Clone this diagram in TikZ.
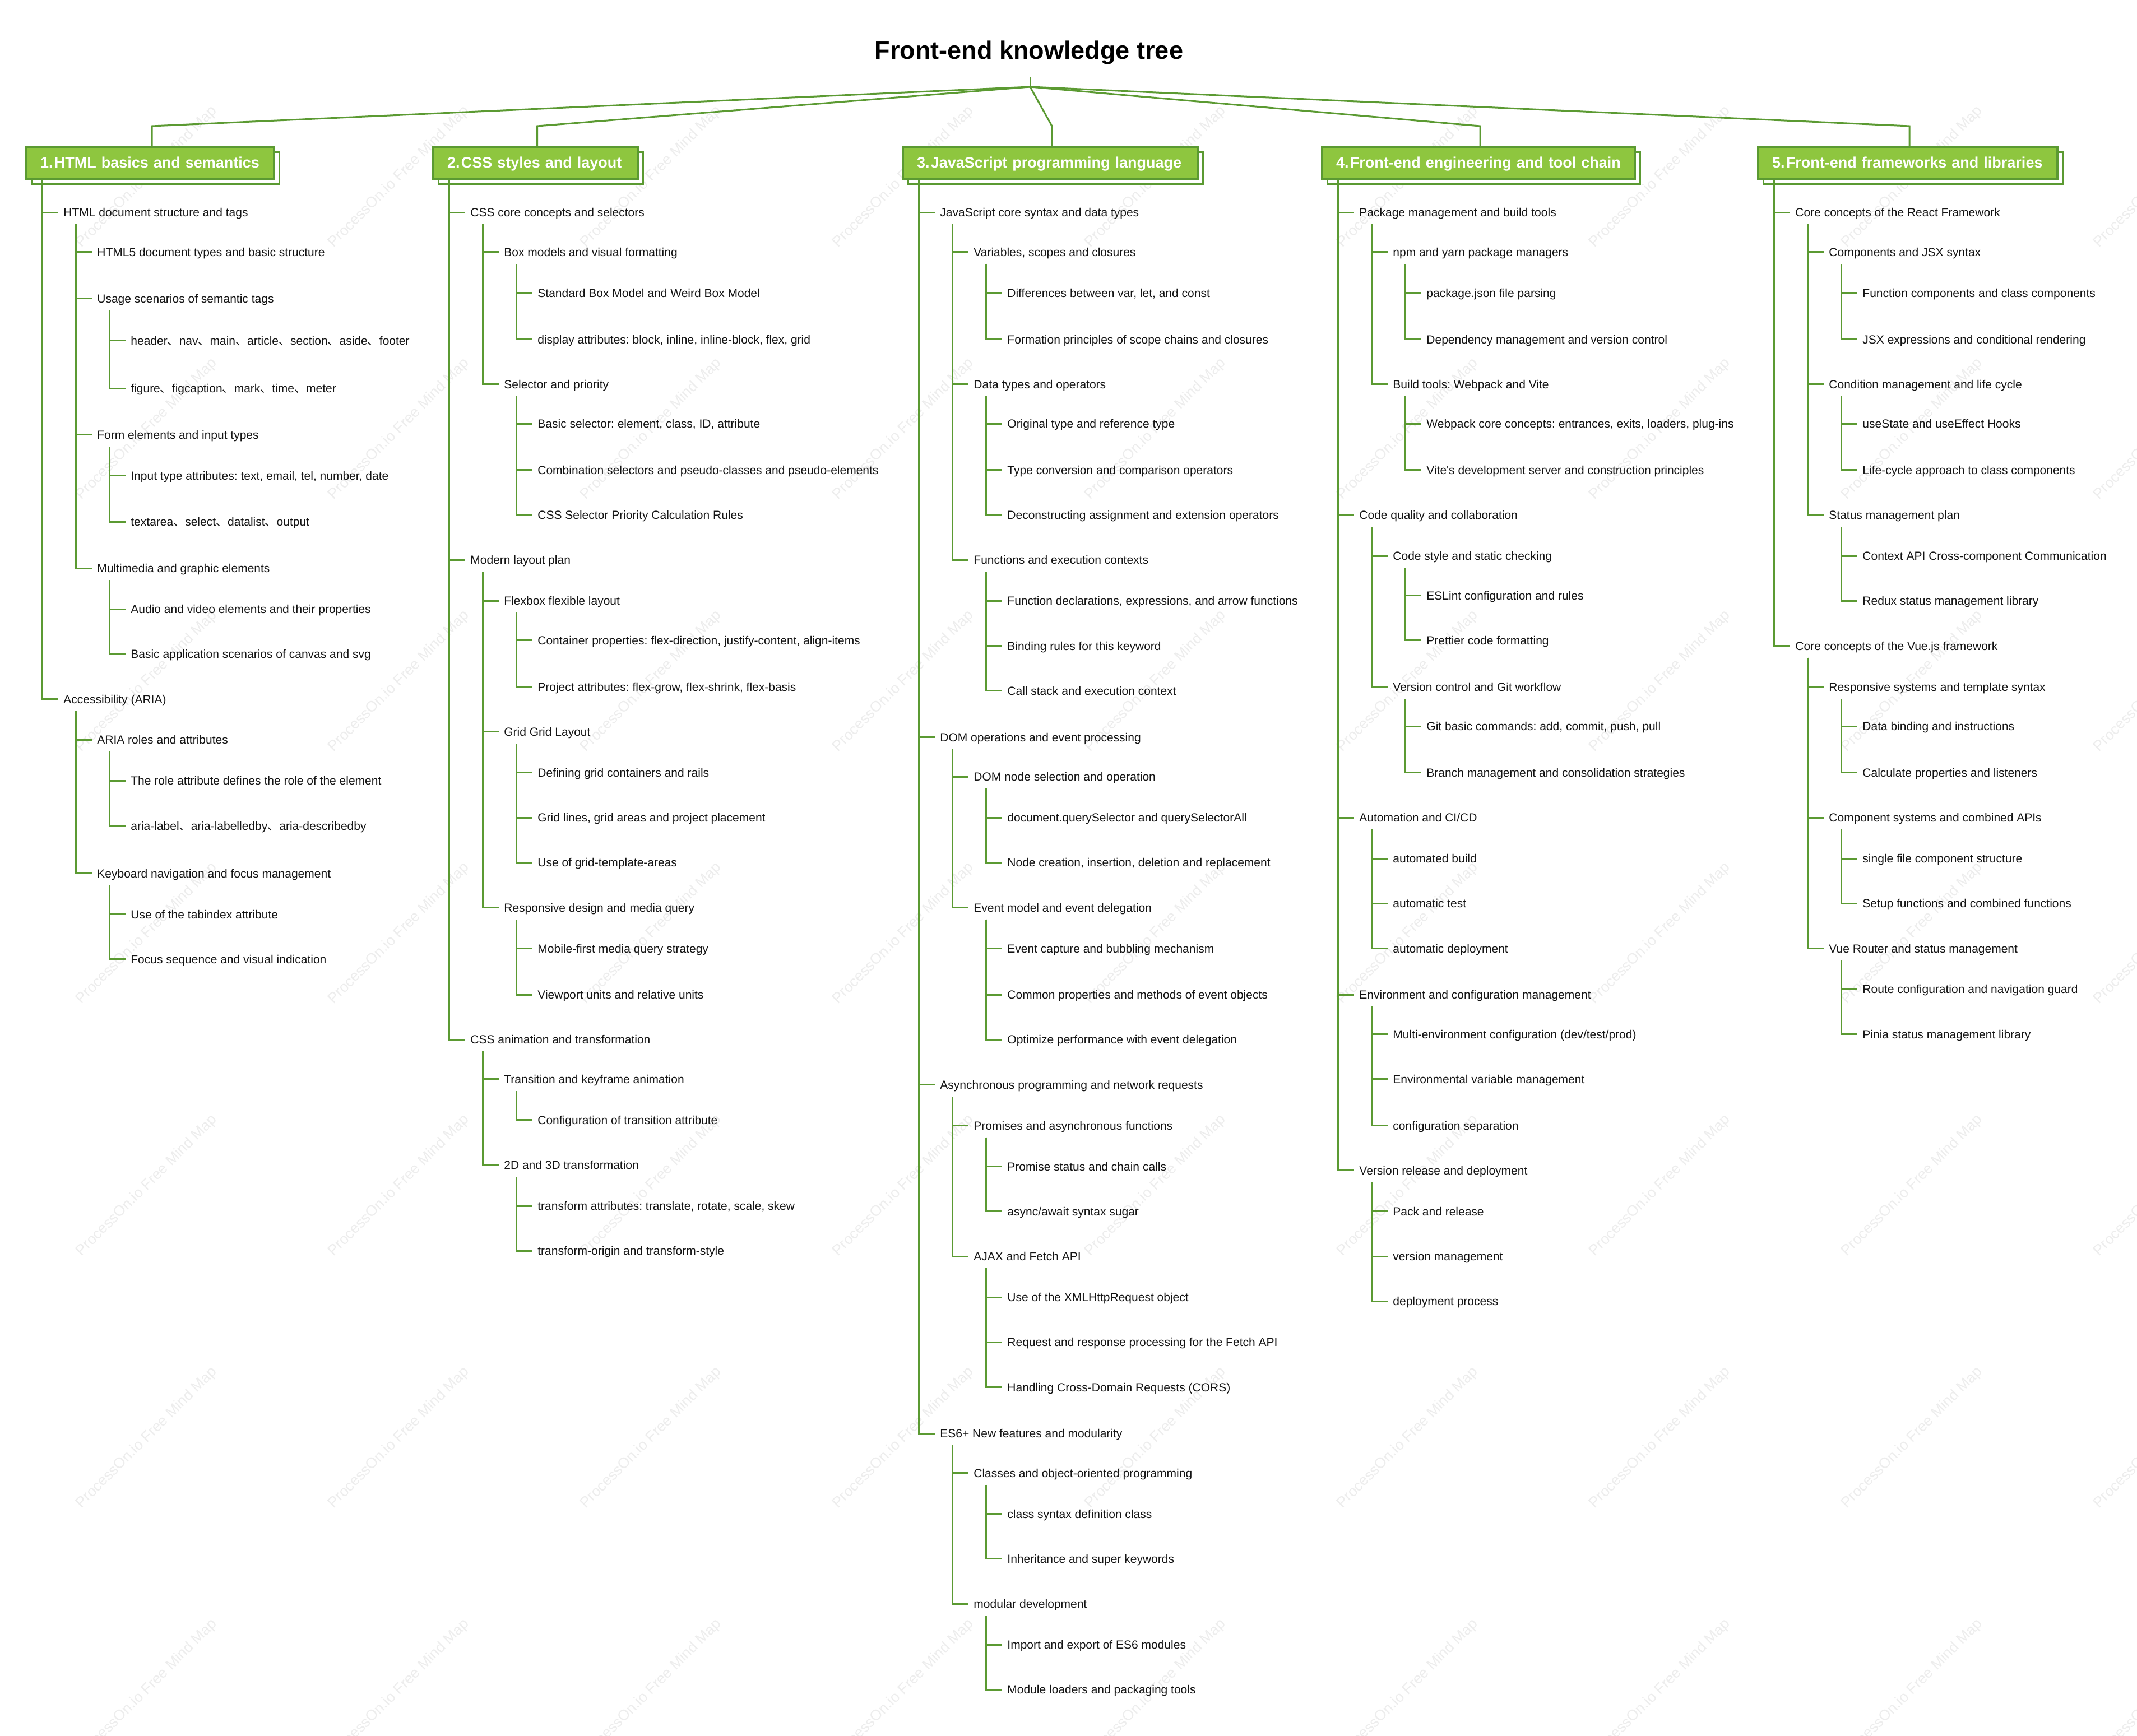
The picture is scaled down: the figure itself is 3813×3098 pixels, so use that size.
\documentclass[tikz,border=0pt]{standalone}
\usepackage{fontspec}
\usetikzlibrary{shadows}
\frenchspacing
\newfontfamily\lib{Liberation Sans}
\newfontfamily\cjkf{Noto Sans CJK SC}
\newcommand{\dn}{{\cjkf 、}}
\definecolor{gline}{HTML}{5B9A32}
\definecolor{gfill}{HTML}{8EC63F}
\definecolor{wmark}{HTML}{EDEDED}
\definecolor{rowink}{HTML}{141414}
\tikzset{
  ln/.style={gline,line width=1.5pt},
  rowtext/.style={font=\lib\fontsize{10.5}{12}\selectfont,text=rowink,anchor=west,inner xsep=4.5pt,inner ysep=0pt,text height=9.5pt,text depth=2pt},
  topbox/.style={draw=gline,fill=gfill,line width=2pt,anchor=north west,outer sep=0pt,minimum height=28.5pt,inner xsep=12.5pt,inner ysep=0pt,align=left,text height=12pt,text depth=3.5pt,
    font=\lib\bfseries\fontsize{13.5}{16}\selectfont,text=white,
    copy shadow={shadow xshift=4.5pt,shadow yshift=-4.5pt,fill=white,draw=gline,line width=1.5pt,opacity=1}},
  wm/.style={font=\lib\fontsize{13.2}{16}\selectfont,text=wmark,rotate=45,inner sep=0pt},
  titlenode/.style={font=\lib\bfseries\fontsize{22.5}{26}\selectfont,text=black,inner sep=0pt}
}
\newcommand{\R}[4]{\node[rowtext] (#1) at ({\cx+58+60*(#2-1)},{#3*2.4318}) {#4};}
\newcommand{\K}[2]{\coordinate (T) at ([shift={(31,21)}]#1.west);
  \foreach \c in {#2} {\draw[ln] (T) |- (\c.west);}}
\newcommand{\KB}[2]{\coordinate (T) at ([xshift=14pt]#1.south west);
  \foreach \c in {#2} {\draw[ln] (T) |- (\c.west);}}
\begin{document}
\begin{tikzpicture}[x=0.5pt,y=-0.5pt]
\useasboundingbox (0,0) rectangle (3813,3098);
\fill[white] (0,0) rectangle (3813,3098);
\begin{scope}
\clip (0,0) rectangle (3813,3098);
\foreach \wx in {262,712,1162,1612,2062,2512,2962,3412,3862}
  \foreach \wy in {316,766,1216,1666,2116,2566,3016}
    \node[wm] (w\wx-\wy) at (\wx,\wy) {ProcessOn.io Free Mind Map};
\end{scope}

\node[titlenode] (title) at (1836,94) {Front-end knowledge tree};
\coordinate (stem) at (1838,138);
\coordinate (root) at (1838,155);
\draw[ln] (stem) -- (root);

\node[topbox,text width=196pt] (b1) at (47,263) {\mbox{1.\kern1.2pt HTML basics and semantics}};
\node[topbox,text width=157.5pt] (b2) at (773,263) {\mbox{2.\kern1.2pt CSS styles and layout}};
\node[topbox,text width=238pt] (b3) at (1611,263) {\mbox{3.\kern1.2pt JavaScript programming language}};
\node[topbox,text width=254pt] (b4) at (2359,263) {\mbox{4.\kern1.2pt Front-end engineering and tool chain}};
\node[topbox,text width=242pt] (b5) at (3137,263) {\mbox{5.\kern1.2pt Front-end frameworks and libraries}};

\foreach \b in {b1,b2,b3,b4,b5}
  \draw[ln] (root) -- ([shift={(3,-38)}]\b.north) -- ([xshift=1.5pt]\b.north);

% column 1
\def\cx{46}
\R{a1}{1}{156}{HTML document structure and tags}
\R{a2}{2}{185}{HTML5 document types and basic structure}
\R{a3}{2}{219}{Usage scenarios of semantic tags}
\R{a4}{3}{250}{header\dn nav\dn main\dn article\dn section\dn aside\dn footer}
\R{a5}{3}{285}{figure\dn figcaption\dn mark\dn time\dn meter}
\R{a6}{2}{319}{Form elements and input types}
\R{a7}{3}{349}{Input type attributes: text, email, tel, number, date}
\R{a8}{3}{383}{textarea\dn select\dn datalist\dn output}
\R{a9}{2}{417}{Multimedia and graphic elements}
\R{a10}{3}{447}{Audio and video elements and their properties}
\R{a11}{3}{480}{Basic application scenarios of canvas and svg}
\R{a12}{1}{513}{Accessibility (ARIA)}
\R{a13}{2}{543}{ARIA roles and attributes}
\R{a14}{3}{573}{The role attribute defines the role of the element}
\R{a15}{3}{606}{aria-label\dn aria-labelledby\dn aria-describedby}
\R{a16}{2}{641}{Keyboard navigation and focus management}
\R{a17}{3}{671}{Use of the tabindex attribute}
\R{a18}{3}{704}{Focus sequence and visual indication}
\KB{b1}{a1,a12}
\K{a1}{a2,a3,a6,a9}
\K{a3}{a4,a5}
\K{a6}{a7,a8}
\K{a9}{a10,a11}
\K{a12}{a13,a16}
\K{a13}{a14,a15}
\K{a16}{a17,a18}

% column 2
\def\cx{772}
\R{c1}{1}{156}{CSS core concepts and selectors}
\R{c2}{2}{185}{Box models and visual formatting}
\R{c3}{3}{215}{Standard Box Model and Weird Box Model}
\R{c4}{3}{249}{display attributes: block, inline, inline-block, flex, grid}
\R{c5}{2}{282}{Selector and priority}
\R{c6}{3}{311}{Basic selector: element, class, ID, attribute}
\R{c7}{3}{345}{Combination selectors and pseudo-classes and pseudo-elements}
\R{c8}{3}{378}{CSS Selector Priority Calculation Rules}
\R{c9}{1}{411}{Modern layout plan}
\R{c10}{2}{441}{Flexbox flexible layout}
\R{c11}{3}{470}{Container properties: flex-direction, justify-content, align-items}
\R{c12}{3}{504}{Project attributes: flex-grow, flex-shrink, flex-basis}
\R{c13}{2}{537}{Grid Grid Layout}
\R{c14}{3}{567}{Defining grid containers and rails}
\R{c15}{3}{600}{Grid lines, grid areas and project placement}
\R{c16}{3}{633}{Use of grid-template-areas}
\R{c17}{2}{666}{Responsive design and media query}
\R{c18}{3}{696}{Mobile-first media query strategy}
\R{c19}{3}{730}{Viewport units and relative units}
\R{c20}{1}{763}{CSS animation and transformation}
\R{c21}{2}{792}{Transition and keyframe animation}
\R{c22}{3}{822}{Configuration of transition attribute}
\R{c23}{2}{855}{2D and 3D transformation}
\R{c24}{3}{885}{transform attributes: translate, rotate, scale, skew}
\R{c25}{3}{918}{transform-origin and transform-style}
\KB{b2}{c1,c9,c20}
\K{c1}{c2,c5}
\K{c2}{c3,c4}
\K{c5}{c6,c7,c8}
\K{c9}{c10,c13,c17}
\K{c10}{c11,c12}
\K{c13}{c14,c15,c16}
\K{c17}{c18,c19}
\K{c20}{c21,c23}
\K{c21}{c22}
\K{c23}{c24,c25}

% column 3
\def\cx{1610}
\R{j1}{1}{156}{JavaScript core syntax and data types}
\R{j2}{2}{185}{Variables, scopes and closures}
\R{j3}{3}{215}{Differences between var, let, and const}
\R{j4}{3}{249}{Formation principles of scope chains and closures}
\R{j5}{2}{282}{Data types and operators}
\R{j6}{3}{311}{Original type and reference type}
\R{j7}{3}{345}{Type conversion and comparison operators}
\R{j8}{3}{378}{Deconstructing assignment and extension operators}
\R{j9}{2}{411}{Functions and execution contexts}
\R{j10}{3}{441}{Function declarations, expressions, and arrow functions}
\R{j11}{3}{474}{Binding rules for this keyword}
\R{j12}{3}{507}{Call stack and execution context}
\R{j13}{1}{541}{DOM operations and event processing}
\R{j14}{2}{570}{DOM node selection and operation}
\R{j15}{3}{600}{document.querySelector and querySelectorAll}
\R{j16}{3}{633}{Node creation, insertion, deletion and replacement}
\R{j17}{2}{666}{Event model and event delegation}
\R{j18}{3}{696}{Event capture and bubbling mechanism}
\R{j19}{3}{730}{Common properties and methods of event objects}
\R{j20}{3}{763}{Optimize performance with event delegation}
\R{j21}{1}{796}{Asynchronous programming and network requests}
\R{j22}{2}{826}{Promises and asynchronous functions}
\R{j23}{3}{856}{Promise status and chain calls}
\R{j24}{3}{889}{async/await syntax sugar}
\R{j25}{2}{922}{AJAX and Fetch API}
\R{j26}{3}{952}{Use of the XMLHttpRequest object}
\R{j27}{3}{985}{Request and response processing for the Fetch API}
\R{j28}{3}{1018}{Handling Cross-Domain Requests (CORS)}
\R{j29}{1}{1052}{ES6+ New features and modularity}
\R{j30}{2}{1081}{Classes and object-oriented programming}
\R{j31}{3}{1111}{class syntax definition class}
\R{j32}{3}{1144}{Inheritance and super keywords}
\R{j33}{2}{1177}{modular development}
\R{j34}{3}{1207}{Import and export of ES6 modules}
\R{j35}{3}{1240}{Module loaders and packaging tools}
\KB{b3}{j1,j13,j21,j29}
\K{j1}{j2,j5,j9}
\K{j2}{j3,j4}
\K{j5}{j6,j7,j8}
\K{j9}{j10,j11,j12}
\K{j13}{j14,j17}
\K{j14}{j15,j16}
\K{j17}{j18,j19,j20}
\K{j21}{j22,j25}
\K{j22}{j23,j24}
\K{j25}{j26,j27,j28}
\K{j29}{j30,j33}
\K{j30}{j31,j32}
\K{j33}{j34,j35}

% column 4
\def\cx{2358}
\R{e1}{1}{156}{Package management and build tools}
\R{e2}{2}{185}{npm and yarn package managers}
\R{e3}{3}{215}{package.json file parsing}
\R{e4}{3}{249}{Dependency management and version control}
\R{e5}{2}{282}{Build tools: Webpack and Vite}
\R{e6}{3}{311}{Webpack core concepts: entrances, exits, loaders, plug-ins}
\R{e7}{3}{345}{Vite's development server and construction principles}
\R{e8}{1}{378}{Code quality and collaboration}
\R{e9}{2}{408}{Code style and static checking}
\R{e10}{3}{437}{ESLint configuration and rules}
\R{e11}{3}{470}{Prettier code formatting}
\R{e12}{2}{504}{Version control and Git workflow}
\R{e13}{3}{533}{Git basic commands: add, commit, push, pull}
\R{e14}{3}{567}{Branch management and consolidation strategies}
\R{e15}{1}{600}{Automation and CI/CD}
\R{e16}{2}{630}{automated build}
\R{e17}{2}{663}{automatic test}
\R{e18}{2}{696}{automatic deployment}
\R{e19}{1}{730}{Environment and configuration management}
\R{e20}{2}{759}{Multi-environment configuration (dev/test/prod)}
\R{e21}{2}{792}{Environmental variable management}
\R{e22}{2}{826}{configuration separation}
\R{e23}{1}{859}{Version release and deployment}
\R{e24}{2}{889}{Pack and release}
\R{e25}{2}{922}{version management}
\R{e26}{2}{955}{deployment process}
\KB{b4}{e1,e8,e15,e19,e23}
\K{e1}{e2,e5}
\K{e2}{e3,e4}
\K{e5}{e6,e7}
\K{e8}{e9,e12}
\K{e9}{e10,e11}
\K{e12}{e13,e14}
\K{e15}{e16,e17,e18}
\K{e19}{e20,e21,e22}
\K{e23}{e24,e25,e26}

% column 5
\def\cx{3136}
\R{f1}{1}{156}{Core concepts of the React Framework}
\R{f2}{2}{185}{Components and JSX syntax}
\R{f3}{3}{215}{Function components and class components}
\R{f4}{3}{249}{JSX expressions and conditional rendering}
\R{f5}{2}{282}{Condition management and life cycle}
\R{f6}{3}{311}{useState and useEffect Hooks}
\R{f7}{3}{345}{Life-cycle approach to class components}
\R{f8}{2}{378}{Status management plan}
\R{f9}{3}{408}{Context API Cross-component Communication}
\R{f10}{3}{441}{Redux status management library}
\R{f11}{1}{474}{Core concepts of the Vue.js framework}
\R{f12}{2}{504}{Responsive systems and template syntax}
\R{f13}{3}{533}{Data binding and instructions}
\R{f14}{3}{567}{Calculate properties and listeners}
\R{f15}{2}{600}{Component systems and combined APIs}
\R{f16}{3}{630}{single file component structure}
\R{f17}{3}{663}{Setup functions and combined functions}
\R{f18}{2}{696}{Vue Router and status management}
\R{f19}{3}{726}{Route configuration and navigation guard}
\R{f20}{3}{759}{Pinia status management library}
\KB{b5}{f1,f11}
\K{f1}{f2,f5,f8}
\K{f2}{f3,f4}
\K{f5}{f6,f7}
\K{f8}{f9,f10}
\K{f11}{f12,f15,f18}
\K{f12}{f13,f14}
\K{f15}{f16,f17}
\K{f18}{f19,f20}
\end{tikzpicture}
\end{document}
